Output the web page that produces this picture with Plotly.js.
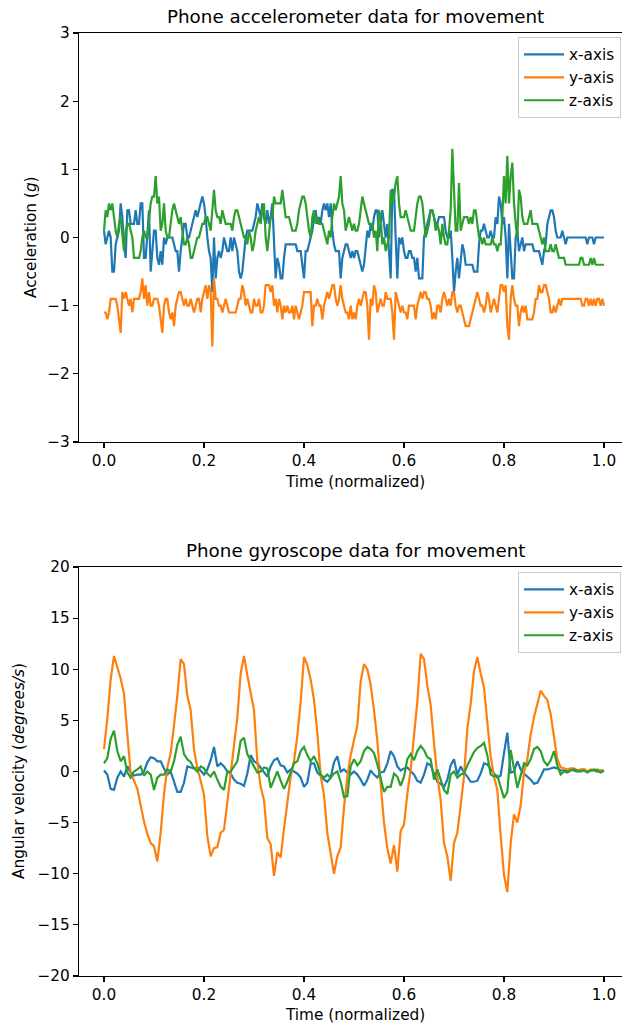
<!DOCTYPE html>
<html><head><meta charset="utf-8">
<script src="https://cdn.plot.ly/plotly-3.0.1.min.js"></script>
<style>html,body{margin:0;padding:0;overflow:hidden;background:#fff}#plot{width:630px;height:1028px}</style>
</head><body><div id="plot"></div>
<script>
// ---- data ----
const seriesNames = ['x-axis', 'y-axis', 'z-axis'];
const seriesColors = ['#1f77b4', '#ff7f0e', '#2ca02c'];
const timeTicks = [0, 0.2, 0.4, 0.6, 0.8, 1.0];
const accelTicks = [-3, -2, -1, 0, 1, 2, 3];
const gyroTicks = [-20, -15, -10, -5, 0, 5, 10, 15, 20];

// accelerometer, 301 samples over normalized time
const accelX = [
0.1,-0.1,0.0,0.1,0.0,-0.5,-0.5,-0.1,0.0,0.1,
0.5,0.3,-0.1,-0.3,0.4,0.4,0.2,0.2,0.2,0.4,
0.2,0.2,0.5,0.5,-0.3,-0.3,0.1,0.4,-0.5,-0.2,
0.1,0.1,-0.3,-0.4,-0.2,-0.4,0.0,-0.1,0.0,0.0,
0.0,0.0,-0.1,-0.2,-0.2,-0.5,-0.2,0.0,0.2,0.2,
0.0,0.0,0.1,0.2,0.3,0.4,0.3,0.4,0.5,0.6,
0.5,0.3,0.0,-0.2,-0.3,-0.8,0.0,-0.6,-0.3,-0.2,
-0.3,-0.2,0.0,-0.1,-0.2,-0.2,0.0,-0.2,0.0,-0.1,
-0.2,-0.5,-0.6,-0.5,-0.2,0.0,0.1,0.1,0.1,0.1,
0.2,0.3,0.5,0.4,0.3,0.5,0.3,0.2,0.4,
0.2,0.3,0.5,0.0,-0.6,-0.3,-0.4,-0.6,-0.6,-0.3,
-0.1,-0.1,-0.1,-0.1,-0.1,-0.1,-0.1,-0.2,-0.2,-0.2,
-0.4,-0.6,-0.2,-0.2,-0.1,0.0,0.1,0.3,0.4,0.2,
0.3,0.2,0.4,0.5,0.4,0.5,0.3,0.5,0.1,-0.1,
-0.2,-0.2,-0.2,-0.6,-0.3,-0.2,-0.1,-0.1,-0.2,-0.3,
-0.2,-0.3,-0.2,-0.2,-0.3,-0.4,-0.5,-0.4,-0.1,0.1,
0.0,0.2,0.1,0.3,0.4,0.4,0.0,0.2,0.4,0.2,
0.0,0.2,-0.3,-0.6,0.7,0.7,0.0,-0.6,0.0,-0.1,
0.0,-0.2,-0.3,-0.3,-0.2,-0.2,-0.3,-0.3,-0.5,-0.3,
-0.6,-0.6,-0.6,0.0,0.1,0.2,0.3,0.4,0.4,0.3,
0.2,
0.2,0.3,0.3,0.3,0.3,0.1,0.0,0.0,0.1,-0.3,
-0.8,-0.5,-0.3,-0.6,-0.3,-0.1,-0.2,-0.4,-0.4,-0.4,
-0.4,-0.4,-0.5,-0.5,-0.5,-0.1,0.1,0.1,0.2,0.1,
0.0,0.0,0.1,0.0,0.0,0.3,0.2,0.6,0.5,0.2,
0.3,0.0,-0.6,0.2,-0.3,-0.6,-0.6,0.0,0.1,-0.2,
-0.1,0.0,-0.2,-0.1,-0.1,-0.1,-0.1,-0.1,-0.2,-0.2,
-0.2,-0.2,-0.3,-0.4,-0.2,-0.1,0.2,0.3,0.4,0.4,
0.3,0.1,0.0,0.0,0.0,0.1,0.0,-0.1,0.0,0.0,
0.0,0.0,0.0,0.0,0.0,0.0,0.0,0.0,0.0,0.0,
-0.1,0.0,0.0,0.0,-0.1,0.0,0.0,0.0,0.0,0.0,
0.0];
const accelY = [
-1.1,-1.1,-1.2,-1.1,-0.9,-0.9,-0.9,-0.9,-1.0,-1.2,
-1.4,-0.8,-0.9,-0.8,-0.9,-1.0,-0.9,-1.1,-0.9,-0.9,
-0.9,-0.9,-0.8,-0.6,-0.9,-0.7,-1.0,-0.8,-1.0,-1.0,
-0.9,-0.9,-0.9,-1.0,-1.2,-1.4,-1.0,-0.9,-0.9,-1.1,
-1.2,-1.1,-1.3,-1.0,-0.9,-0.8,-0.8,-0.9,-1.0,-0.9,
-1.0,-1.0,-0.9,-1.0,-1.1,-1.0,-0.9,-0.9,-1.1,-0.9,
-0.8,-0.7,-0.9,-0.7,-0.8,-1.6,-0.6,-0.9,-0.9,-1.0,
-1.0,-1.1,-1.0,-0.9,-1.0,-1.1,-1.1,-1.1,-1.1,-1.1,
-1.0,-0.9,-0.9,-0.7,-0.8,-1.0,-0.9,-1.0,-1.1,-1.1,
-0.9,-1.0,-1.0,-0.9,-1.1,-1.1,-1.0,-0.7,-0.7,
-0.7,-0.8,-0.7,-1.0,-0.9,-1.1,-0.9,-1.0,-1.2,-1.0,
-1.1,-1.0,-1.1,-1.1,-1.0,-1.2,-1.0,-1.1,-1.2,-1.1,
-1.0,-0.8,-0.8,-0.8,-0.8,-0.8,-1.3,-1.0,-1.0,-0.9,
-1.0,-1.0,-1.2,-1.0,-0.9,-0.8,-0.9,-0.8,-0.7,-0.7,
-0.9,-1.0,-0.9,-0.7,-0.9,-1.0,-1.1,-1.1,-1.2,-1.0,
-1.2,-1.1,-1.2,-1.0,-0.9,-1.0,-0.9,-0.8,-0.8,-1.0,
-1.5,-0.9,-1.0,-0.7,-0.8,-1.1,-1.0,-0.9,-1.0,-1.0,
-0.8,-0.9,-0.9,-0.9,-1.1,-1.5,-0.8,-0.9,-1.0,-1.1,
-1.0,-1.1,-1.1,-1.2,-1.0,-1.0,-1.0,-1.0,-1.2,-1.0,
-0.9,-0.8,-0.9,-0.8,-0.8,-0.9,-0.9,-1.0,-1.2,-1.1,
-1.2,
-1.0,-1.0,-1.1,-0.9,-0.8,-0.9,-1.0,-0.9,-1.0,-0.8,
-0.8,-1.0,-1.1,-1.0,-1.0,-1.1,-1.2,-1.3,-1.3,-1.3,
-1.2,-1.1,-1.0,-0.9,-0.8,-0.9,-1.0,-1.0,-1.1,-1.0,
-0.8,-0.9,-1.1,-1.0,-0.9,-1.0,-1.1,-0.9,-0.7,-0.7,
-0.8,-0.7,-1.3,-1.5,-0.9,-0.7,-0.9,-1.0,-1.0,-1.3,
-1.1,-1.0,-1.1,-1.0,-1.2,-1.2,-1.2,-1.2,-1.1,-0.9,
-0.9,-0.7,-0.8,-0.8,-0.7,-0.7,-0.8,-0.9,-1.1,-1.1,
-1.0,-1.1,-1.0,-0.9,-1.0,-0.9,-0.9,-0.9,-0.9,-0.9,
-0.9,-0.9,-0.9,-0.9,-0.9,-0.9,-0.9,-1.0,-1.0,-0.9,
-0.9,-1.0,-0.9,-1.0,-0.9,-1.0,-0.9,-0.9,-1.0,-0.9,
-1.0];
const accelZ = [
0.1,0.4,0.3,0.5,0.4,0.5,0.3,0.1,0.0,0.2,
0.3,0.0,-0.2,0.1,0.2,0.2,0.1,0.0,-0.3,-0.3,
-0.3,-0.3,-0.2,0.0,0.1,0.0,0.0,0.3,0.5,0.6,
0.6,0.9,0.5,0.6,0.1,0.2,0.5,0.1,0.0,0.0,
0.2,0.4,0.5,0.4,0.3,0.2,0.3,0.1,-0.1,-0.1,
0.0,-0.1,-0.3,-0.3,-0.2,-0.1,0.0,0.0,0.1,0.2,
0.2,0.3,0.3,0.2,0.1,0.4,0.7,0.4,0.3,0.3,
0.2,0.4,0.3,0.2,0.2,0.2,0.2,0.1,0.3,0.4,
0.4,0.3,0.2,0.1,0.0,0.0,-0.1,0.1,0.0,-0.2,
-0.1,0.1,0.2,0.3,0.2,0.4,0.5,0.0,-0.2,
0.1,0.3,0.3,0.6,0.5,0.5,0.5,0.5,0.7,0.5,
0.3,0.3,0.3,0.2,0.1,0.1,0.1,0.2,0.4,0.5,
0.6,0.6,0.5,0.3,0.1,0.0,0.3,0.4,0.2,0.3,
0.2,0.2,0.2,0.1,0.0,-0.1,0.1,0.0,0.3,0.5,
0.4,0.5,0.6,0.9,0.5,0.4,0.1,0.2,0.3,0.2,
0.1,0.2,0.1,0.1,0.2,0.4,0.6,0.5,0.4,0.3,
0.2,0.2,0.2,0.0,0.1,-0.2,0.4,0.3,-0.1,0.0,
-0.2,-0.1,0.0,0.7,0.5,0.6,0.8,0.9,0.5,0.3,
0.3,0.3,0.4,0.3,0.2,0.1,0.1,0.1,0.3,0.5,
0.6,0.6,0.5,0.2,0.0,0.1,0.2,0.4,0.4,0.3,
0.1,
0.2,0.1,-0.1,0.2,0.0,-0.1,-0.1,0.1,0.4,1.3,
0.7,0.1,0.1,0.8,0.1,0.2,0.3,0.3,0.3,0.2,
0.3,0.2,0.4,0.4,0.2,0.0,0.0,-0.1,0.0,-0.1,
-0.1,-0.1,-0.1,0.0,-0.1,-0.1,-0.2,-0.1,-0.1,0.3,
0.9,0.5,1.2,0.5,0.9,1.1,0.5,0.2,0.0,0.7,
0.6,0.3,0.2,0.2,0.2,0.3,0.4,0.2,0.2,0.2,
0.2,0.1,0.0,-0.1,0.0,-0.2,-0.2,-0.2,-0.1,-0.2,
-0.2,-0.1,-0.2,-0.3,-0.3,-0.3,-0.3,-0.4,-0.4,-0.4,
-0.4,-0.4,-0.4,-0.4,-0.4,-0.4,-0.3,-0.3,-0.4,-0.4,
-0.4,-0.4,-0.3,-0.4,-0.3,-0.4,-0.4,-0.4,-0.4,-0.4,
-0.4];

// gyroscope, 151 samples over normalized time
const gyroX = [
0.1,-0.3,-1.7,-1.8,-0.6,0.0,-0.5,0.5,-0.1,-0.4,
-0.3,-0.3,0.0,0.9,1.4,1.3,1.0,1.0,0.3,-0.3,
0.0,-0.9,-2.0,-2.0,-1.1,0.5,0.4,0.3,0.4,0.1,
-0.3,0.2,1.1,2.4,0.5,0.8,0.5,0.0,-0.2,-0.8,
-1.1,-1.2,-1.4,-0.2,1.6,1.0,0.8,0.4,0.0,-0.5,
0.5,1.1,1.3,0.6,0.5,-0.1,0.2,0.0,-0.2,-0.6,
-1.5,-1.1,0.8,0.8,-0.1,-0.4,-0.8,-1.0,-0.6,0.9,
1.5,0.0,0.2,-0.1,-0.3,0.0,-0.3,-0.8,-1.4,-0.8,
0.1,-0.3,-0.6,-0.1,0.0,0.8,2.0,1.5,0.5,0.1,
0.3,0.4,0.0,-0.3,-0.9,-1.1,-0.3,0.8,0.6,-0.3,
-1.0,-1.2,-1.5,-0.8,0.6,1.2,-0.3,0.5,-0.1,-0.5,
-1.0,-1.0,-0.9,-0.2,0.8,0.7,0.2,-0.2,-0.6,-0.4,
1.8,3.8,-0.1,0.0,1.0,0.2,-0.2,-0.5,-0.8,-1.2,
-1.1,-0.5,0.2,0.2,0.3,0.4,0.3,0.1,0.1,0.0,
0.2,0.1,0.0,0.1,0.2,0.0,0.1,0.1,0.0,0.1,
0.0];
const gyroY = [
2.2,5.2,9.0,11.3,10.2,9.1,7.6,3.6,-0.2,-0.9,
-1.7,-3.3,-4.9,-6.1,-7.0,-7.3,-8.8,-6.0,-2.2,0.4,
1.8,4.5,7.4,11.0,10.5,7.4,6.0,2.2,0.3,-0.9,
-2.3,-6.3,-8.3,-7.5,-7.4,-6.0,-5.7,-3.0,-0.1,2.4,
5.3,9.6,11.3,9.4,7.8,6.0,1.0,-1.5,-2.8,-6.5,
-7.1,-10.2,-7.9,-8.4,-5.6,-3.0,-0.5,1.0,3.5,6.8,
11.2,10.4,9.0,7.0,3.8,-0.4,-2.3,-6.0,-8.2,-10.0,
-8.3,-7.4,-3.5,-0.5,1.6,3.0,4.5,8.8,10.5,10.0,
8.5,6.0,3.0,-1.2,-5.0,-7.5,-9.0,-7.2,-9.8,-5.8,
-5.2,-2.2,0.2,3.5,6.8,11.5,11.0,8.4,6.5,2.8,
-0.5,-2.8,-7.0,-8.3,-10.7,-7.0,-6.0,-3.3,-0.5,4.2,
6.6,9.8,11.2,9.6,8.2,4.8,1.5,-0.5,-1.8,-6.3,
-10.1,-11.8,-7.0,-4.2,-5.0,-3.3,-0.1,1.2,3.6,5.3,
6.7,7.9,7.4,7.0,5.6,3.2,1.2,0.4,0.3,0.2,
0.3,0.3,0.1,0.2,0.2,0.0,0.2,0.1,0.2,0.1,
0.1];
const gyroZ = [
0.8,1.3,3.2,4.0,2.0,1.0,1.5,-0.1,-0.6,0.0,
0.2,0.5,-0.4,0.0,-0.3,-1.8,-0.6,-0.3,-0.3,0.2,
0.0,1.0,2.6,3.4,1.7,1.2,0.9,0.3,0.0,0.5,
0.3,-0.2,-0.5,0.0,-0.8,-1.5,-1.8,0.0,0.0,0.5,
1.0,3.0,3.3,1.7,1.1,0.6,-0.1,0.0,0.4,0.3,
-1.6,-0.8,0.0,-0.9,-1.7,-1.0,0.0,0.8,1.0,2.0,
2.4,1.6,1.0,1.5,0.8,-0.3,-0.6,-0.3,-0.6,-0.2,
0.0,-1.0,-2.5,-2.4,0.5,1.2,0.6,1.0,2.0,2.4,
2.2,1.8,0.7,-0.6,-2.0,-1.5,-1.5,-0.2,-0.5,-1.4,
-0.5,1.2,1.7,1.1,2.0,2.5,2.1,1.4,1.2,-0.8,
0.2,-0.8,-1.8,-2.2,-0.3,0.0,-0.6,-0.3,-0.2,0.6,
1.3,1.9,2.3,2.5,2.8,1.6,-0.3,-0.5,-0.4,-1.5,
-2.6,-2.0,2.1,0.3,-1.6,-0.4,0.8,0.6,1.2,2.2,
2.4,2.0,1.0,0.6,1.1,2.0,0.6,-0.3,0.0,-0.1,
0.1,0.2,0.1,0.0,0.1,-0.1,0.1,0.2,0.1,-0.1,
0.1];

// ---- helpers ----
function normTime(n) { const t = []; for (let i = 0; i < n; i++) t.push(i / (n - 1)); return t; }
const tAccel = normTime(accelX.length);
const tGyro = normTime(gyroX.length);

const FONT = 'DejaVu Sans, Verdana, sans-serif';
const FS = 15.3, FT = 18.3;
const accelSeries = [accelX, accelY, accelZ];
const gyroSeries = [gyroX, gyroY, gyroZ];
const traces = [];
accelSeries.forEach((s, k) => traces.push({
  x: tAccel, y: s, type: 'scatter', mode: 'lines', name: seriesNames[k],
  line: {color: seriesColors[k], width: 2.2}, xaxis: 'x', yaxis: 'y', legend: 'legend'
}));
gyroSeries.forEach((s, k) => traces.push({
  x: tGyro, y: s, type: 'scatter', mode: 'lines', name: seriesNames[k],
  line: {color: seriesColors[k], width: 2.2}, xaxis: 'x2', yaxis: 'y2', legend: 'legend2'
}));

const W = 630, H = 1028, ML = 79, MR = 1, MT = 33, MB = 52;
const PW = W - ML - MR, PH = H - MT - MB;
const px = x => (x - ML) / PW;
const py = y => (H - MB - y) / PH;

function xax(anchor) {
  return {anchor: anchor, range: [-0.05, 1.05], tickvals: timeTicks, tickformat: '.1f',
    ticks: 'outside', ticklen: 5, tickwidth: 1.1, tickcolor: '#000',
    showline: true, linecolor: '#000', linewidth: 1.1, mirror: true,
    showgrid: false, zeroline: false, tickfont: {family: FONT, size: FS, color: '#000'}};
}
function yax(anchor, dom, rng, ticks) {
  return {anchor: anchor, domain: dom, range: rng, tickvals: ticks,
    ticks: 'outside', ticklen: 5, tickwidth: 1.1, tickcolor: '#000',
    showline: true, linecolor: '#000', linewidth: 1.1, mirror: true,
    showgrid: false, zeroline: false, tickfont: {family: FONT, size: FS, color: '#000'}};
}
function legendAt(yTop) {
  return {x: px(621), xanchor: 'right', y: py(yTop), yanchor: 'top',
    bgcolor: 'rgba(255,255,255,0.8)', bordercolor: '#cccccc', borderwidth: 1,
    itemwidth: 40, tracegroupgap: 0,
    font: {family: FONT, size: FS, color: '#000'}};
}
function ann(text, x, y, size, angle) {
  return {text: text, xref: 'paper', yref: 'paper', x: px(x), y: py(y),
    xanchor: 'center', yanchor: 'middle', showarrow: false, textangle: angle || 0,
    font: {family: FONT, size: size, color: '#000'}};
}

const layout = {
  width: W, height: H, margin: {l: ML, r: MR, t: MT, b: MB},
  paper_bgcolor: '#fff', plot_bgcolor: '#fff',
  font: {family: FONT, color: '#000'},
  xaxis: xax('y'), yaxis: yax('x', [py(442), 1], [-3, 3], accelTicks),
  xaxis2: xax('y2'), yaxis2: yax('x2', [0, py(567)], [-20, 20], gyroTicks),
  legend: legendAt(37), legend2: legendAt(572),
  annotations: [
    ann('Phone accelerometer data for movement', 355, 17, FT),
    ann('Time (normalized)', 355, 482, FS),
    ann('Acceleration (<i>g</i>)', 31, 237, FS, -90),
    ann('Phone gyroscope data for movement', 355, 550, FT),
    ann('Time (normalized)', 355, 1015, FS),
    ann('Angular velocity (<i>degrees/s</i>)', 19, 771, FS, -90)
  ]
};
Plotly.newPlot('plot', traces, layout, {displayModeBar: false, staticPlot: true});
</script>
</body></html>
